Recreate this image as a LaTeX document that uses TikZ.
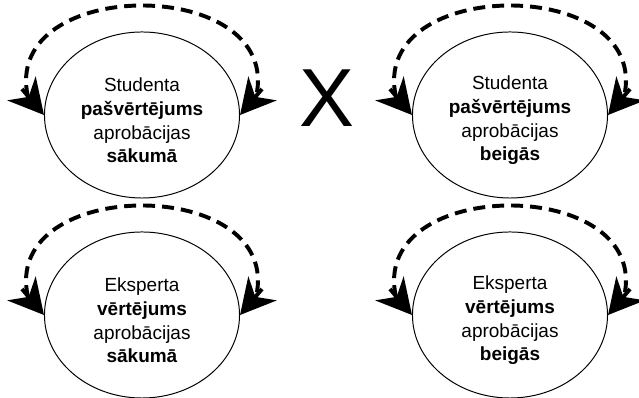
\documentclass[tikz,border=0pt]{standalone}
\usepackage{fontspec}
\setmainfont{Liberation Sans}
\usetikzlibrary{shapes.geometric,arrows.meta,calc}

\newcommand{\toprule}{\rule{0pt}{17.5pt}}

\tikzset{
  assess/.style={ellipse, draw, line width=0.7pt, fill=white, minimum width=4.875cm, minimum height=4.15cm, inner sep=0pt, align=center, font=\fontsize{13.5}{16.8}\selectfont},
  loopline/.style={dash pattern=on 8.5pt off 5pt, line width=2.8pt},
  tipline/.style={line width=2.8pt, -{Stealth[length=24.7pt, width=26.3pt, inset=7.8pt]}}
}

\begin{document}
\begin{tikzpicture}[x=0.025cm, y=0.025cm]
\useasboundingbox (0,0) rectangle (639,398);

\node[assess] (sstart) at (142,283) {\toprule Studenta\\\textbf{pašvērtējums}\\aprobācijas\\\textbf{sākumā}};
\node[assess] (send) at (510,283) {\toprule Studenta\\\textbf{pašvērtējums}\\aprobācijas\\\textbf{beigās}};
\node[assess] (estart) at (142,83) {\toprule Eksperta\\\textbf{vērtējums}\\aprobācijas\\\textbf{sākumā}};
\node[assess] (eend) at (510,83) {\toprule Eksperta\\\textbf{vērtējums}\\aprobācijas\\\textbf{beigās}};
\node[font=\fontsize{58.6}{60}\selectfont] (cross) at (327,299.5) {X};

% loops over each ellipse
\draw[loopline] ($(sstart.west)+(-16,18)$) .. controls +(-28,122) and +(28,122) .. ($(sstart.east)+(16,18)$);
\draw[tipline] ($(sstart.west)+(-22,26)$) -- (sstart.west);
\draw[tipline] ($(sstart.east)+(22,26)$) -- (sstart.east);

\draw[loopline] ($(send.west)+(-16,18)$) .. controls +(-28,122) and +(28,122) .. ($(send.east)+(16,18)$);
\draw[tipline] ($(send.west)+(-22,26)$) -- (send.west);
\draw[tipline] ($(send.east)+(22,26)$) -- (send.east);

\draw[loopline] ($(estart.west)+(-16,18)$) .. controls +(-28,122) and +(28,122) .. ($(estart.east)+(16,18)$);
\draw[tipline] ($(estart.west)+(-22,26)$) -- (estart.west);
\draw[tipline] ($(estart.east)+(22,26)$) -- (estart.east);

\draw[loopline] ($(eend.west)+(-16,18)$) .. controls +(-28,122) and +(28,122) .. ($(eend.east)+(16,18)$);
\draw[tipline] ($(eend.west)+(-22,26)$) -- (eend.west);
\draw[tipline] ($(eend.east)+(22,26)$) -- (eend.east);
\end{tikzpicture}
\end{document}
